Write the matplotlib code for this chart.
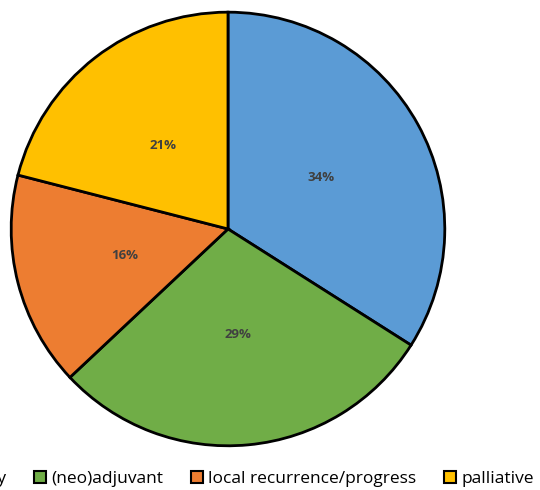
import numpy as np
import matplotlib.pyplot as plt

# data
labels = ['primary therapy', '(neo)adjuvant', 'local recurrence/progress', 'palliative']
shares = [34, 29, 16, 21]
colors = ['#5B9BD5', '#70AD47', '#ED7D31', '#FFC000']

plt.rcParams['font.family'] = ['Open Sans', 'DejaVu Sans']

fig = plt.figure(figsize=(5.4, 4.9), dpi=100)
ax = fig.add_axes([0.0167, 0.0857, 0.811, 0.894])

wedges, texts, autotexts = ax.pie(shares, colors=colors, startangle=90, counterclock=False,
                                  autopct='%d%%', pctdistance=0.49,
                                  wedgeprops=dict(edgecolor='black', linewidth=2))
for t in autotexts:
    t.set_color('#404040')
    t.set_fontsize(9.5)
    t.set_fontweight('bold')
ax.set_xlim(-1.01, 1.01)
ax.set_ylim(-1.01, 1.01)
ax.set_aspect('equal')

leg = fig.legend(wedges, labels, loc='center right', bbox_to_anchor=(534 / 540, 0.022), ncol=4,
                 frameon=False, fontsize=12.5, handlelength=0.7, handleheight=0.7,
                 handletextpad=0.3, columnspacing=1.6, borderpad=0, borderaxespad=0)
for h in leg.legend_handles:
    h.set_linewidth(1.5)

plt.savefig('out.png')
